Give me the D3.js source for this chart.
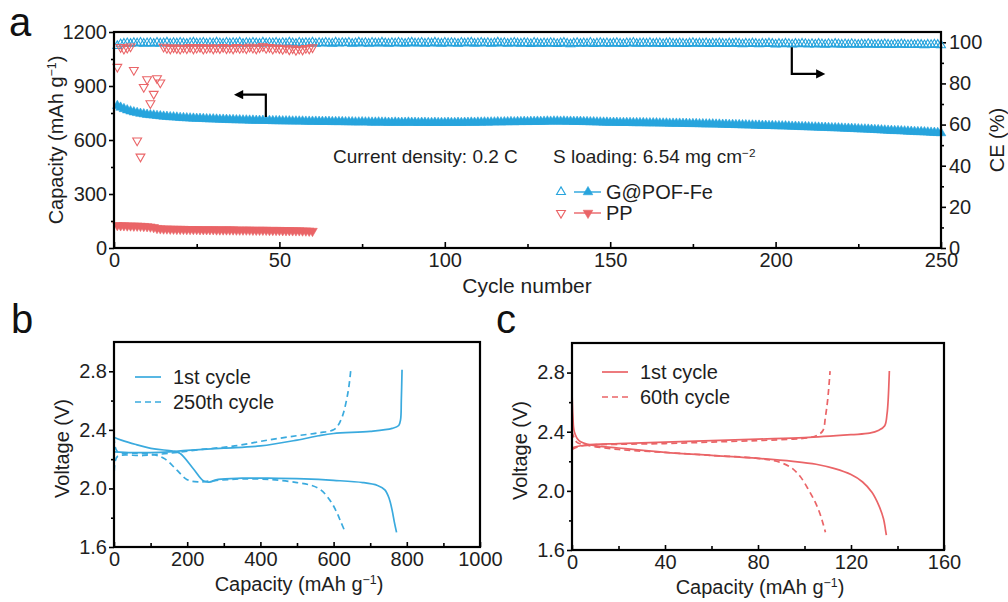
<!DOCTYPE html>
<html>
<head>
<meta charset="utf-8">
<script src="https://cdn.jsdelivr.net/npm/d3@7/dist/d3.min.js"></script>
<style>
  body { margin: 0; background: #fff; }
  svg { font-family: "Liberation Sans", Arial, sans-serif; }
</style>
</head>
<body>
<svg id="fig" width="1008" height="602"></svg>
<script>
// ---- panel a: cycling data (one value per cycle, cycle = index + 1) ----
const gCapacity = [
  790,781,773,766,760,755,751,747,744,741, 739,737,735,733,731,730,728,727,726,724,
  723,722,721,720,719,719,718,717,716,716, 715,714,714,713,712,712,711,711,710,710,
  709,709,708,708,708,707,707,706,706,706, 705,705,705,704,704,704,704,703,703,703,
  703,702,702,702,702,701,701,701,701,700, 700,700,699,699,700,699,699,698,698,699,
  698,698,697,697,698,697,697,697,698,697, 697,696,697,697,696,696,697,696,696,696,
  697,696,696,697,696,697,697,698,697,698, 698,699,698,699,699,700,699,700,700,701,
  700,701,701,702,701,702,702,703,702,703, 704,703,704,704,703,704,703,703,702,702,
  702,701,701,700,700,699,699,698,698,697, 697,697,696,696,696,696,695,695,695,695,
  694,694,694,694,693,693,693,692,692,692, 692,691,691,690,690,690,689,689,688,688,
  688,687,687,686,686,685,685,684,684,683, 683,682,682,681,681,680,680,679,679,678,
  678,677,677,676,675,675,674,673,673,672, 671,671,670,669,669,668,667,667,666,665,
  664,664,663,662,661,660,660,659,658,657, 656,655,654,653,652,651,651,650,649,648,
  647,646,645,645,644,643,642,641,640,639
];
const gCE = [
  98.2,99.1,99.4,99.6,99.3,99.7,99.5,99.8,99.4,99.6, 99.7,99.3,99.8,99.5,99.6,99.9,99.4,99.7,99.5,99.8,
  99.6,99.3,99.7,99.9,99.5,99.6,99.8,99.4,99.7,99.5, 99.9,99.6,99.4,99.8,99.5,99.7,99.6,99.9,99.3,99.7,
  99.5,99.8,99.6,99.4,99.9,99.5,99.7,99.6,99.8,99.4, 99.7,99.5,99.9,99.6,99.3,99.8,99.5,99.7,99.6,99.9,
  99.4,99.7,99.5,99.8,99.6,99.4,99.9,99.5,99.7,99.6, 99.8,99.3,99.6,99.9,99.5,99.7,99.4,99.8,99.6,99.5,
  99.9,99.6,99.4,99.7,99.5,99.8,99.6,99.3,99.7,99.9, 99.5,99.6,99.8,99.4,99.7,99.5,99.9,99.6,99.4,99.8,
  99.5,99.7,99.6,99.3,99.8,99.5,99.7,99.9,99.4,99.6, 99.8,99.5,99.7,99.4,99.6,99.9,99.5,99.7,99.3,99.6,
  99.8,99.5,99.4,99.7,99.6,99.2,99.8,99.5,99.3,99.6, 99.4,99.7,99.5,99.2,99.6,99.8,99.4,99.1,99.5,99.7,
  99.3,99.6,99.4,99.8,99.2,99.5,99.7,99.4,99.6,99.3, 99.5,99.7,99.4,99.2,99.6,99.5,99.8,99.3,99.5,99.6,
  99.4,99.7,99.3,99.5,99.6,99.2,99.5,99.7,99.4,99.3, 99.6,99.4,99.2,99.5,99.7,99.3,99.5,99.4,99.6,99.2,
  99.5,99.3,99.6,99.4,99.2,99.5,99.3,99.6,99.4,99.1, 99.4,99.2,99.5,99.3,99.1,99.4,99.2,99.5,99.3,99.0,
  99.3,99.1,99.4,99.2,99.0,99.3,99.1,99.4,99.2,99.0, 99.2,99.0,99.3,99.1,98.9,99.2,99.0,99.3,99.1,98.9,
  99.1,98.9,99.2,99.0,98.8,99.1,98.9,99.2,99.0,98.8, 99.0,98.8,99.1,98.9,98.7,99.0,98.8,99.1,98.9,98.7,
  98.9,98.7,99.0,98.8,98.6,98.9,98.7,99.0,98.8,98.6
];
const ppCapacity = [
  126,125,125,124,124,123,123,122,121,120, 118,115,110,108,107,107,106,106,105,105,
  105,104,104,104,104,103,103,103,103,103, 102,102,102,102,102,102,101,101,101,101,
  101,100,100,100,100,100,99,99,99,99, 98,98,98,97,97,97,96,96,95,94
];
const ppCE = [
  88.0,97.6,96.8,97.3,97.9,86.5,52.2,44.4,78.2,82.0, 70.3,74.9,82.5,80.4,97.8,97.2,96.9,97.5,97.1,96.8,
  97.4,97.0,97.6,96.9,97.3,97.7,96.8,97.2,97.5,96.9, 97.4,97.1,97.7,97.0,97.3,96.9,97.6,97.2,97.4,97.0,
  97.8,97.3,96.9,97.5,98.0,97.2,97.6,96.8,97.4,97.1, 96.7,97.3,96.5,97.0,96.2,96.8,96.4,97.2,96.9,97.5
];
const capTicksA = [0, 300, 600, 900, 1200];
const ceTicksA = [0, 20, 40, 60, 80, 100];
const cycleTicks = [0, 50, 100, 150, 200, 250];
// arrows: [x, y] in data units (cycle, capacity) / (cycle, CE)
const leftArrow = [[45.9, 728], [45.9, 852], [38.5, 852]];
const rightArrow = [[204.9, 97.6], [204.9, 84.6], [212.8, 84.6]];

// ---- panel b / c: voltage profiles [capacity, voltage] ----
const b1Discharge = [[0,2.35],[20,2.33],[60,2.30],[110,2.27],[160,2.255],[180,2.24],[215,2.14],[245,2.05],[260,2.043],[285,2.062],[350,2.07],[420,2.07],[520,2.065],[600,2.055],[680,2.04],[720,2.02],[740,1.99],[752,1.93],[760,1.85],[766,1.77],[772,1.70]];
const b1Charge = [[0,2.25],[50,2.245],[100,2.245],[150,2.25],[200,2.26],[300,2.275],[400,2.29],[500,2.33],[560,2.36],[600,2.375],[700,2.39],[760,2.41],[778,2.43],[783,2.47],[785,2.6],[787,2.81]];
const b250Discharge = [[0,2.42],[2,2.30],[10,2.25],[60,2.24],[110,2.23],[140,2.20],[170,2.13],[200,2.06],[230,2.045],[280,2.055],[350,2.065],[430,2.06],[500,2.04],[540,2.02],[565,1.99],[590,1.92],[608,1.84],[620,1.77],[632,1.70]];
const b250Charge = [[0,2.05],[3,2.18],[10,2.22],[80,2.225],[150,2.24],[235,2.265],[330,2.29],[420,2.33],[500,2.36],[560,2.38],[600,2.40],[612,2.43],[625,2.50],[635,2.60],[642,2.70],[647,2.81]];
const c1Discharge = [[0,2.68],[0.4,2.5],[1,2.40],[3,2.34],[8,2.31],[20,2.29],[40,2.26],[60,2.24],[80,2.22],[95,2.20],[105,2.18],[113,2.15],[120,2.11],[125,2.06],[129,1.99],[132,1.90],[134,1.81],[134.8,1.74],[135.2,1.70]];
const c1Charge = [[0,2.29],[2,2.30],[6,2.31],[20,2.32],[40,2.33],[60,2.34],[80,2.35],[100,2.36],[120,2.38],[128,2.39],[132,2.41],[134.5,2.44],[135.5,2.52],[136,2.62],[136.5,2.81]];
const c60Discharge = [[0,2.40],[2,2.33],[6,2.31],[20,2.28],[40,2.26],[60,2.24],[80,2.22],[88,2.20],[94,2.16],[98,2.10],[102,2.00],[105,1.91],[107,1.83],[109,1.72]];
const c60Charge = [[0,2.28],[3,2.30],[8,2.31],[20,2.315],[40,2.32],[60,2.33],[80,2.34],[95,2.35],[102,2.36],[106,2.38],[108,2.41],[109,2.50],[110,2.62],[111,2.81]];
const capTicksB = [0, 200, 400, 600, 800, 1000];
const capTicksC = [0, 40, 80, 120, 160];
const voltTicks = [1.6, 2.0, 2.4, 2.8];

const blue = '#27a4dd';
const red = '#ea6467';
const textColor = '#1e1e1e';
const svg = d3.select('#fig');

svg.append('defs').append('marker')
  .attr('id', 'head').attr('viewBox', '0 0 10 10').attr('refX', 2).attr('refY', 5)
  .attr('markerWidth', 5).attr('markerHeight', 4.2).attr('orient', 'auto')
  .append('path').attr('d', 'M0,0 L10,5 L0,10 z').attr('fill', '#000');

function styleAxis(g, size) {
  g.select('.domain').remove();
  g.selectAll('line').attr('stroke', '#000').attr('stroke-width', 1.6);
  g.selectAll('text').attr('font-size', size).attr('fill', textColor);
}

function frame(x0, x1, y0, y1) {
  svg.append('rect').attr('x', x0).attr('y', y0).attr('width', x1 - x0).attr('height', y1 - y0)
    .attr('fill', 'none').attr('stroke', '#000').attr('stroke-width', 2.2);
}

function supLabel(sel, before, sup, after) {
  sel.append('tspan').text(before);
  sel.append('tspan').attr('baseline-shift', 'super').attr('font-size', '0.62em').text(sup);
  sel.append('tspan').text(after);
}

const plain = d3.format('d');

// =================== panel a ===================
const ax = d3.scaleLinear().domain([0, 250]).range([114, 941]);
const ayL = d3.scaleLinear().domain([0, 1200]).range([248, 32]);
const ayR = d3.scaleLinear().domain([0, 105]).range([248, 32]);

svg.append('g').attr('transform', 'translate(0,248)')
  .call(d3.axisBottom(ax).tickValues([25, 75, 125, 175, 225]).tickSize(-4).tickFormat(''))
  .call(g => styleAxis(g, 20));
svg.append('g').attr('transform', 'translate(0,248)')
  .call(d3.axisBottom(ax).tickValues(cycleTicks).tickSize(-6).tickPadding(5).tickFormat(plain))
  .call(g => styleAxis(g, 20));
svg.append('g').attr('transform', 'translate(114,0)')
  .call(d3.axisLeft(ayL).tickValues([150, 450, 750, 1050]).tickSize(3).tickFormat(''))
  .call(g => styleAxis(g, 20));
svg.append('g').attr('transform', 'translate(114,0)')
  .call(d3.axisLeft(ayL).tickValues(capTicksA).tickSize(5).tickPadding(2).tickFormat(plain))
  .call(g => styleAxis(g, 20));
svg.append('g').attr('transform', 'translate(941,0)')
  .call(d3.axisRight(ayR).tickValues([10, 30, 50, 70, 90]).tickSize(3).tickFormat(''))
  .call(g => styleAxis(g, 20));
svg.append('g').attr('transform', 'translate(941,0)')
  .call(d3.axisRight(ayR).tickValues(ceTicksA).tickSize(5).tickPadding(3).tickFormat(plain))
  .call(g => styleAxis(g, 20));

const triFill = d3.symbol(d3.symbolTriangle, 40)();
const triOpen = d3.symbol(d3.symbolTriangle, 34)();

function scatter(values, yScale, color, down, filled) {
  svg.append('g').selectAll('path')
    .data(values)
    .join('path')
    .attr('d', filled ? triFill : triOpen)
    .attr('transform', (v, i) => `translate(${ax(i + 1)},${yScale(v)}) rotate(${down ? 180 : 0})`)
    .attr('fill', filled ? color : 'none')
    .attr('stroke', color)
    .attr('stroke-width', filled ? 0.6 : 1.1);
}

scatter(gCapacity, ayL, blue, false, true);
scatter(gCE, ayR, blue, false, false);
scatter(ppCapacity, ayL, red, true, true);
scatter(ppCE, ayR, red, true, false);

frame(114, 941, 32, 248);

svg.append('path')
  .attr('d', d3.line()(leftArrow.map(p => [ax(p[0]), ayL(p[1])])))
  .attr('fill', 'none').attr('stroke', '#000').attr('stroke-width', 2.2).attr('marker-end', 'url(#head)');
svg.append('path')
  .attr('d', d3.line()(rightArrow.map(p => [ax(p[0]), ayR(p[1])])))
  .attr('fill', 'none').attr('stroke', '#000').attr('stroke-width', 2.2).attr('marker-end', 'url(#head)');

svg.append('text').attr('x', 333).attr('y', 163).attr('font-size', 19).attr('fill', textColor)
  .text('Current density: 0.2 C');
supLabel(svg.append('text').attr('x', 553).attr('y', 163).attr('font-size', 19).attr('fill', textColor),
  'S loading: 6.54 mg cm', '\u22122', '');

// legend a
const legA = [
  { label: 'G@POF-Fe', color: blue, down: false, y: 192 },
  { label: 'PP', color: red, down: true, y: 213 },
];
legA.forEach(d => {
  svg.append('path').attr('d', triOpen)
    .attr('transform', `translate(561,${d.y}) rotate(${d.down ? 180 : 0})`)
    .attr('fill', 'none').attr('stroke', d.color).attr('stroke-width', 1.1);
  svg.append('line').attr('x1', 574).attr('x2', 601).attr('y1', d.y).attr('y2', d.y)
    .attr('stroke', d.color).attr('stroke-width', 1.4);
  svg.append('path').attr('d', triFill)
    .attr('transform', `translate(588,${d.y}) rotate(${d.down ? 180 : 0})`)
    .attr('fill', d.color).attr('stroke', d.color).attr('stroke-width', 0.6);
  svg.append('text').attr('x', 606).attr('y', d.y + 7).attr('font-size', 20).attr('fill', textColor).text(d.label);
});

svg.append('text').attr('x', 527).attr('y', 293).attr('text-anchor', 'middle').attr('font-size', 21)
  .attr('fill', textColor).text('Cycle number');
supLabel(svg.append('text').attr('transform', 'translate(63,140) rotate(-90)').attr('text-anchor', 'middle')
  .attr('font-size', 20).attr('fill', textColor), 'Capacity (mAh g', '\u22121', ')');
svg.append('text').attr('transform', 'translate(1004,140) rotate(-90)').attr('text-anchor', 'middle')
  .attr('font-size', 20).attr('fill', textColor).text('CE (%)');
svg.append('text').attr('x', 9).attr('y', 36).attr('font-size', 40).attr('fill', '#111').text('a');

// =================== panels b, c ===================
function profilePanel(opt) {
  const x = d3.scaleLinear().domain(opt.xDomain).range([opt.x0, opt.x1]);
  const y = d3.scaleLinear().domain([1.6, 3.0]).range([opt.y1, opt.y0]);

  svg.append('g').attr('transform', `translate(0,${opt.y1})`)
    .call(d3.axisBottom(x).tickValues(opt.minorX).tickSize(-4).tickFormat(''))
    .call(g => styleAxis(g, 20));
  svg.append('g').attr('transform', `translate(0,${opt.y1})`)
    .call(d3.axisBottom(x).tickValues(opt.xTicks).tickSize(-5).tickPadding(5).tickFormat(plain))
    .call(g => styleAxis(g, 20));
  svg.append('g').attr('transform', `translate(${opt.x0},0)`)
    .call(d3.axisLeft(y).tickValues([1.8, 2.2, 2.6]).tickSize(3).tickFormat(''))
    .call(g => styleAxis(g, 20));
  svg.append('g').attr('transform', `translate(${opt.x0},0)`)
    .call(d3.axisLeft(y).tickValues(voltTicks).tickSize(5).tickPadding(2).tickFormat(d3.format('.1f')))
    .call(g => styleAxis(g, 20));

  const line = d3.line().x(d => x(d[0])).y(d => y(d[1])).curve(d3.curveCatmullRom.alpha(0.5));
  opt.curves.forEach(c => {
    svg.append('path').datum(c.data).attr('d', line)
      .attr('fill', 'none').attr('stroke', opt.color).attr('stroke-width', 1.7)
      .attr('stroke-dasharray', c.dashed ? '6,4' : null);
  });

  frame(opt.x0, opt.x1, opt.y0, opt.y1);

  opt.legend.forEach((d, i) => {
    const ly = opt.legY + i * 25;
    svg.append('line').attr('x1', opt.legX).attr('x2', opt.legX + 26).attr('y1', ly).attr('y2', ly)
      .attr('stroke', opt.color).attr('stroke-width', 1.7).attr('stroke-dasharray', i ? '6,4' : null);
    svg.append('text').attr('x', opt.legX + 38).attr('y', ly + 7).attr('font-size', 20)
      .attr('fill', textColor).text(d);
  });

  supLabel(svg.append('text').attr('x', (opt.x0 + opt.x1) / 2 + 2).attr('y', opt.y1 + 44)
    .attr('text-anchor', 'middle').attr('font-size', 20).attr('fill', textColor), 'Capacity (mAh g', '\u22121', ')');
  svg.append('text').attr('transform', `translate(${opt.x0 - 45},${(opt.y0 + opt.y1) / 2 + 4}) rotate(-90)`)
    .attr('text-anchor', 'middle').attr('font-size', 20).attr('fill', textColor).text('Voltage (V)');
  svg.append('text').attr('x', opt.labelX).attr('y', 333).attr('font-size', 40).attr('fill', '#111').text(opt.label);
}

profilePanel({
  label: 'b', labelX: 11,
  x0: 114, x1: 480, y0: 342, y1: 547,
  xDomain: [0, 1000], xTicks: capTicksB, minorX: [100, 300, 500, 700, 900],
  color: '#3aaade',
  curves: [
    { data: b1Discharge, dashed: false }, { data: b1Charge, dashed: false },
    { data: b250Discharge, dashed: true }, { data: b250Charge, dashed: true },
  ],
  legend: ['1st cycle', '250th cycle'], legX: 135, legY: 377,
});

profilePanel({
  label: 'c', labelX: 496,
  x0: 572, x1: 944, y0: 343, y1: 550,
  xDomain: [0, 160], xTicks: capTicksC, minorX: [20, 60, 100, 140],
  color: red,
  curves: [
    { data: c1Discharge, dashed: false }, { data: c1Charge, dashed: false },
    { data: c60Discharge, dashed: true }, { data: c60Charge, dashed: true },
  ],
  legend: ['1st cycle', '60th cycle'], legX: 602, legY: 372,
});
</script>
</body>
</html>
